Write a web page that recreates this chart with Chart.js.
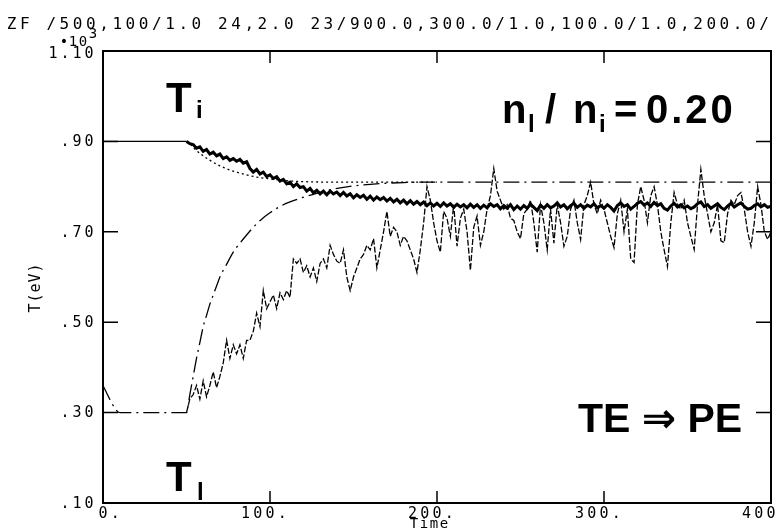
<!DOCTYPE html>
<html>
<head>
<meta charset="utf-8">
<script src="https://cdn.jsdelivr.net/npm/chart.js@4.4.1/dist/chart.umd.min.js"></script>
<style>
html,body{margin:0;padding:0;background:#fff;}
#c{display:block;}
</style>
</head>
<body>
<canvas id="c" width="775" height="532"></canvas>
<script>
// ---- data ----
const headerText = "ZF /500,100/1.0 24,2.0 23/900.0,300.0/1.0,100.0/1.0,200.0/";
const xTickValues = [0, 100, 200, 300, 400];
const xTickLabels = ["0.", "100.", "200.", "300.", "400."];
const yTickValues = [0.1, 0.3, 0.5, 0.7, 0.9, 1.1];
const yTickLabels = [".10", ".30", ".50", ".70", ".90", "1.10"];
const xTitle = "Time";
const yTitle = "T(eV)";

// simulation sample times: 50, 52, ..., 400
const simStart = 50, simStep = 2;
// simulated main-ion temperature Ti (thick noisy line), x10^3 eV
const simTi = [
 0.900,0.895,0.893,0.885,0.888,0.878,0.882,0.872,0.876,0.868,0.872,0.862,0.866,0.858,0.862,0.856,0.860,0.852,0.855,0.840,0.832,0.838,0.828,0.832,0.822,
 0.826,0.818,0.822,0.812,0.816,0.806,0.810,0.800,0.806,0.798,0.800,0.790,0.796,0.786,0.792,0.784,0.790,0.782,0.790,0.784,0.788,0.780,0.787,0.779,0.784,
 0.775,0.782,0.776,0.781,0.772,0.779,0.770,0.777,0.771,0.776,0.768,0.774,0.766,0.772,0.764,0.770,0.762,0.769,0.761,0.767,0.760,0.766,0.758,0.764,0.757,
 0.763,0.756,0.764,0.757,0.762,0.754,0.761,0.755,0.760,0.753,0.761,0.754,0.760,0.752,0.759,0.753,0.762,0.756,0.760,0.751,0.758,0.752,0.760,0.749,0.757,
 0.750,0.758,0.752,0.761,0.754,0.747,0.759,0.752,0.760,0.753,0.757,0.764,0.755,0.760,0.751,0.758,0.763,0.754,0.760,0.752,0.759,0.755,0.762,0.753,0.758,
 0.752,0.760,0.754,0.746,0.758,0.764,0.756,0.760,0.750,0.756,0.763,0.767,0.759,0.764,0.756,0.765,0.758,0.762,0.752,0.748,0.757,0.763,0.755,0.760,0.753,
 0.757,0.751,0.755,0.762,0.766,0.756,0.760,0.752,0.757,0.762,0.754,0.749,0.757,0.763,0.755,0.760,0.764,0.756,0.750,0.752,0.758,0.762,0.755,0.760,0.754,
 0.757
];
// simulated impurity temperature TI (thin dashed noisy line)
const simTI = [
 0.30,0.33,0.34,0.36,0.33,0.37,0.335,0.36,0.39,0.355,0.38,0.41,0.46,0.42,0.45,0.43,0.45,0.42,0.46,0.46,0.48,0.52,0.49,0.57,0.53,
 0.545,0.56,0.53,0.565,0.55,0.57,0.555,0.64,0.63,0.64,0.61,0.625,0.60,0.62,0.59,0.63,0.64,0.62,0.67,0.65,0.635,0.63,0.66,0.60,0.57,
 0.60,0.62,0.64,0.65,0.67,0.66,0.685,0.62,0.66,0.70,0.745,0.69,0.71,0.70,0.67,0.69,0.68,0.66,0.64,0.61,0.66,0.72,0.80,0.77,0.72,
 0.68,0.655,0.745,0.73,0.69,0.76,0.668,0.73,0.75,0.70,0.615,0.71,0.735,0.67,0.70,0.75,0.78,0.84,0.79,0.77,0.75,0.76,0.73,0.725,0.70,
 0.685,0.74,0.75,0.77,0.72,0.655,0.76,0.72,0.66,0.75,0.675,0.76,0.72,0.668,0.69,0.75,0.77,0.72,0.683,0.76,0.78,0.81,0.76,0.74,0.77,
 0.75,0.72,0.69,0.665,0.74,0.77,0.70,0.75,0.64,0.632,0.76,0.80,0.77,0.72,0.78,0.80,0.76,0.70,0.66,0.623,0.72,0.787,0.76,0.75,0.77,
 0.72,0.69,0.661,0.76,0.838,0.78,0.74,0.70,0.72,0.76,0.68,0.676,0.74,0.77,0.76,0.78,0.787,0.75,0.70,0.668,0.72,0.80,0.76,0.70,0.683,
 0.70
];
// theoretical Ti (dotted)
const theoTiTimes  = [0, 50, 55, 60, 65, 70, 75, 80, 86, 92, 100, 110, 120, 135, 150, 200];
const theoTiValues = [0.90,0.90,0.883,0.868,0.856,0.846,0.838,0.832,0.826,0.821,0.817,0.813,0.811,0.810,0.810,0.810];
// theoretical TI (long dash-dot)
const theoTITimes  = [0, 4, 8, 10, 50, 52, 54, 56, 58, 60, 62, 64, 66, 68, 70, 74, 78, 82, 86, 90, 95, 100, 106, 112, 118, 126, 135, 145, 160, 180, 200, 400];
const theoTIValues = [0.36,0.33,0.305,0.30,0.30,0.34,0.38,0.42,0.455,0.49,0.515,0.54,0.56,0.58,0.60,0.628,0.655,0.675,0.693,0.71,0.728,0.742,0.756,0.766,0.774,0.783,0.792,0.799,0.805,0.809,0.81,0.81];

// ---- build datasets ----
const toXY = (xs, ys) => ys.map((y, i) => ({x: xs[i], y}));
const simTimes = simTi.map((_, i) => simStart + i * simStep);

const PL_FONT = '"DejaVu Sans Mono", "Liberation Mono", monospace';
const BOLD_FONT = '"Liberation Sans", Arial, "DejaVu Sans", sans-serif';

function monoText(ctx, str, x, y, adv, align) {
  // fixed char advance (plotter look); x = left edge unless align given
  let start = x;
  if (align === 'right') start = x - str.length * adv;
  else if (align === 'center') start = x - str.length * adv / 2;
  ctx.textAlign = 'center';
  for (let i = 0; i < str.length; i++) {
    ctx.fillText(str[i], start + adv * (i + 0.5), y);
  }
}

const decor = {
  id: 'decor',
  afterDraw(chart) {
    const {ctx, chartArea: a, scales: {x, y}} = chart;
    ctx.save();
    ctx.strokeStyle = '#000';
    ctx.fillStyle = '#000';
    // frame
    ctx.lineWidth = 2;
    ctx.strokeRect(a.left, a.top, a.right - a.left, a.bottom - a.top);
    // inward ticks
    ctx.lineWidth = 1.5;
    ctx.beginPath();
    yTickValues.forEach(v => {
      if (v <= 0.1 || v >= 1.1) return;
      const py = y.getPixelForValue(v);
      ctx.moveTo(a.left, py); ctx.lineTo(a.left + 15, py);
      ctx.moveTo(a.right, py); ctx.lineTo(a.right - 15, py);
    });
    xTickValues.forEach(v => {
      if (v <= 0 || v >= 400) return;
      const px = x.getPixelForValue(v);
      ctx.moveTo(px, a.bottom); ctx.lineTo(px, a.bottom - 12);
      ctx.moveTo(px, a.top); ctx.lineTo(px, a.top + 12);
    });
    ctx.stroke();

    // header
    ctx.font = '16px ' + PL_FONT;
    ctx.textBaseline = 'alphabetic';
    monoText(ctx, headerText, 5, 29, 13.2);

    // y tick labels
    ctx.font = '15px ' + PL_FONT;
    ctx.textBaseline = 'middle';
    yTickValues.forEach((v, i) => {
      const py = y.getPixelForValue(v);
      monoText(ctx, yTickLabels[i], 95, py + (v >= 1.1 ? 3 : 1), 12, 'right');
    });
    // exponent marker above the top label
    const ty = y.getPixelForValue(1.1);
    ctx.font = '14px ' + PL_FONT;
    monoText(ctx, "\u2022", 60, ty - 9, 8);
    monoText(ctx, "10", 68, ty - 9, 10);
    monoText(ctx, "3", 88, ty - 17, 10);

    // x tick labels (last digit centred on tick)
    ctx.font = '15px ' + PL_FONT;
    ctx.textBaseline = 'middle';
    xTickValues.forEach((v, i) => {
      const px = x.getPixelForValue(v);
      const lab = xTickLabels[i];
      const nd = lab.replace('.', '').length;
      monoText(ctx, lab, px - (nd - 0.5) * 12.3, a.bottom + 11, 12.3);
    });
    // axis titles
    ctx.font = '14px ' + PL_FONT;
    monoText(ctx, xTitle, 429, 524, 10, 'center');
    ctx.save();
    ctx.translate(36, 288);
    ctx.rotate(-Math.PI / 2);
    ctx.font = '15px ' + PL_FONT;
    monoText(ctx, yTitle, 0, 0, 10, 'center');
    ctx.restore();

    // big annotations
    ctx.textBaseline = 'alphabetic';
    ctx.textAlign = 'left';
    ctx.font = 'bold 42px ' + BOLD_FONT;
    ctx.fillText('T', 166, 112);
    ctx.font = 'bold 24px ' + BOLD_FONT;
    ctx.fillText('i', 196, 118);

    ctx.font = 'bold 42px ' + BOLD_FONT;
    ctx.fillText('T', 166, 491);
    ctx.font = 'bold 24px ' + BOLD_FONT;
    ctx.fillText('l', 197, 500);

    // n_l / n_i = 0.20
    const base = 123;
    ctx.font = 'bold 40px ' + BOLD_FONT;
    ctx.fillText('n', 502, base);
    ctx.fillText('/', 545, base);
    ctx.fillText('n', 573, base);
    ctx.fillText('=', 614, base);
    ctx.save();
    if ('letterSpacing' in ctx) ctx.letterSpacing = '3px';
    ctx.fillText('0.20', 646, base);
    ctx.restore();
    ctx.font = 'bold 24px ' + BOLD_FONT;
    ctx.fillText('l', 528, base + 9);
    ctx.fillText('i', 599, base + 9);

    ctx.font = 'bold 41px ' + BOLD_FONT;
    ctx.fillText('TE \u21D2 PE', 578, 432);
    ctx.restore();
  }
};

new Chart(document.getElementById('c'), {
  type: 'line',
  data: {
    datasets: [
      {
        label: 'TI simulation',
        data: toXY(simTimes, simTI),
        borderColor: '#000', borderWidth: 1.3, borderDash: [6, 2],
        pointRadius: 0, tension: 0, fill: false
      },
      {
        label: 'TI theory',
        data: toXY(theoTITimes, theoTIValues),
        borderColor: '#000', borderWidth: 1.3, borderDash: [16, 5, 2, 5],
        pointRadius: 0, cubicInterpolationMode: 'monotone', fill: false
      },
      {
        label: 'Ti theory',
        data: toXY(theoTiTimes, theoTiValues),
        borderColor: '#000', borderWidth: 1.3,
        segment: { borderDash: c => (c.p1.parsed.x <= 50 ? [] : [2, 3]) },
        pointRadius: 0, cubicInterpolationMode: 'monotone', fill: false
      },
      {
        label: 'Ti simulation',
        data: toXY(simTimes, simTi),
        borderColor: '#000', borderWidth: 3,
        pointRadius: 0, tension: 0, fill: false
      }
    ]
  },
  options: {
    responsive: false,
    animation: false,
    devicePixelRatio: 1,
    layout: { padding: { top: 51, right: 4, left: 0, bottom: 0 } },
    plugins: { legend: { display: false }, tooltip: { enabled: false }, title: { display: false } },
    scales: {
      x: {
        type: 'linear', min: 0, max: 400,
        ticks: { display: false }, grid: { display: false }, border: { display: false },
        afterFit: s => { s.height = 29; }
      },
      y: {
        type: 'linear', min: 0.1, max: 1.1,
        ticks: { display: false }, grid: { display: false }, border: { display: false },
        afterFit: s => { s.width = 103; }
      }
    }
  },
  plugins: [decor]
});
</script>
</body>
</html>
